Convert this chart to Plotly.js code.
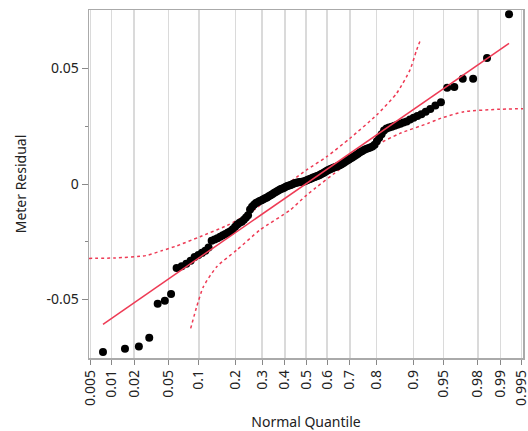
<!DOCTYPE html>
<html>
<head>
<meta charset="utf-8">
<script src="https://cdn.plot.ly/plotly-3.0.1.min.js"></script>
<style>html,body{margin:0;padding:0;background:#fff;}#chart{width:528px;height:431px;}</style>
</head>
<body>
<div id="chart"></div>
<script>
// Sorted meter residuals, n = 130
const residuals = [
-0.0727,-0.0713,-0.0703,-0.0665,-0.0518,-0.0505,-0.0476,-0.0364,-0.0356,-0.0345,
-0.0332,-0.0316,-0.0307,-0.0298,-0.0289,-0.0275,-0.0246,-0.0240,-0.0235,-0.0228,
-0.0222,-0.0216,-0.0210,-0.0205,-0.0196,-0.0185,-0.0175,-0.0168,-0.0163,-0.0155,
-0.0145,-0.0135,-0.0110,-0.0098,-0.0090,-0.0082,-0.0078,-0.0074,-0.0070,-0.0066,
-0.0062,-0.0058,-0.0053,-0.0049,-0.0044,-0.0039,-0.0035,-0.0030,-0.0026,-0.0022,
-0.0019,-0.0016,-0.0012,-0.0009,-0.0006,-0.0004,-0.0001,0.0002,0.0004,0.0006,
0.0008,0.0009,0.0010,0.0011,0.0013,0.0016,0.0019,0.0022,0.0025,0.0028,
0.0030,0.0033,0.0036,0.0039,0.0043,0.0047,0.0051,0.0055,0.0059,0.0063,
0.0066,0.0069,0.0072,0.0075,0.0078,0.0081,0.0085,0.0090,0.0095,0.0101,
0.0105,0.0110,0.0115,0.0120,0.0125,0.0131,0.0137,0.0142,0.0147,0.0151,
0.0155,0.0158,0.0162,0.0170,0.0185,0.0200,0.0215,0.0232,0.0240,0.0244,
0.0248,0.0252,0.0256,0.0261,0.0266,0.0271,0.0279,0.0287,0.0294,0.0302,
0.0313,0.0325,0.0340,0.0354,0.0416,0.0420,0.0455,0.0456,0.0545,0.0735
];

// Fitted line (normal quantile, residual)
const lineQuantile = [-2.426, 2.426];
const lineResidual = [-0.0607, 0.0609];

// Upper confidence band (normal quantile, residual)
const upperQuantile = [-2.593,-2.286,-1.915,-1.717,-1.545,-1.266,-0.947,-0.669,-0.39,0.008,0.247,0.526,0.845,1.084,1.243,1.322,1.37];
const upperResidual = [-0.0322,-0.0320,-0.0310,-0.0288,-0.0268,-0.0228,-0.0180,-0.0125,-0.0045,0.0061,0.0118,0.0198,0.0299,0.0393,0.0494,0.0580,0.0626];

// Lower confidence band (normal quantile, residual)
const lowerQuantile = [-1.378,-1.306,-1.227,-1.067,-0.828,-0.55,-0.191,0.008,0.446,0.845,1.123,1.462,1.609,1.888,2.286,2.593];
const lowerResidual = [-0.0625,-0.0531,-0.0445,-0.0358,-0.0286,-0.0199,-0.0113,-0.0048,0.0075,0.0169,0.0219,0.0263,0.0284,0.0313,0.0323,0.0326];

// Probability tick labels
const probTicks = [0.005,0.01,0.02,0.05,0.1,0.2,0.3,0.4,0.5,0.6,0.7,0.8,0.9,0.95,0.98,0.99,0.995];
const probLabels = ["0.005","0.01","0.02","0.05","0.1","0.2","0.3","0.4","0.5","0.6","0.7","0.8","0.9","0.95","0.98","0.99","0.995"];

const yTicks = [-0.05, 0, 0.05];
const yLabels = ["-0.05", "0", "0.05"];

// Inverse standard normal CDF (Acklam)
function invNorm(p) {
  const a=[-3.969683028665376e+01,2.209460984245205e+02,-2.759285104469687e+02,1.383577518672690e+02,-3.066479806614716e+01,2.506628277459239e+00];
  const b=[-5.447609879822406e+01,1.615858368580409e+02,-1.556989798598866e+02,6.680131188771972e+01,-1.328068155288572e+01];
  const c=[-7.784894002430293e-03,-3.223964580411365e-01,-2.400758277161838e+00,-2.549732539343734e+00,4.374664141464968e+00,2.938163982698783e+00];
  const d=[7.784695709041462e-03,3.224671290700398e-01,2.445134137142996e+00,3.754408661907416e+00];
  const pl=0.02425, ph=1-pl;
  let q,r;
  if (p<pl){q=Math.sqrt(-2*Math.log(p));return (((((c[0]*q+c[1])*q+c[2])*q+c[3])*q+c[4])*q+c[5])/((((d[0]*q+d[1])*q+d[2])*q+d[3])*q+1);}
  if (p>ph){q=Math.sqrt(-2*Math.log(1-p));return -(((((c[0]*q+c[1])*q+c[2])*q+c[3])*q+c[4])*q+c[5])/((((d[0]*q+d[1])*q+d[2])*q+d[3])*q+1);}
  q=p-0.5;r=q*q;
  return (((((a[0]*r+a[1])*r+a[2])*r+a[3])*r+a[4])*r+a[5])*q/(((((b[0]*r+b[1])*r+b[2])*r+b[3])*r+b[4])*r+1);
}

const n = residuals.length;
const pointQuantile = residuals.map((_, i) => invNorm((i + 1) / (n + 1)));
const tickPos = probTicks.map(invNorm);

const red = '#ee3b55';
const traces = [
  {x: upperQuantile, y: upperResidual, mode: 'lines', line: {color: red, width: 1.5, dash: '3px,3px', shape: 'spline', smoothing: 0.6}, hoverinfo: 'skip'},
  {x: lowerQuantile, y: lowerResidual, mode: 'lines', line: {color: red, width: 1.5, dash: '3px,3px', shape: 'spline', smoothing: 0.6}, hoverinfo: 'skip'},
  {x: pointQuantile, y: residuals, mode: 'markers', marker: {color: '#000', size: 8}},
  {x: lineQuantile, y: lineResidual, mode: 'lines', line: {color: red, width: 1.5}}
];

const layout = {
  width: 528, height: 431,
  margin: {l: 89, r: 5, t: 10, b: 73},
  paper_bgcolor: '#fff', plot_bgcolor: '#fff',
  showlegend: false,
  font: {family: '"Noto Sans", "Open Sans", sans-serif', size: 14, color: '#222'},
  xaxis: {
    range: [-2.593, 2.593],
    tickmode: 'array', tickvals: tickPos, ticktext: probLabels,
    ticklabeloverflow: 'allow',
    tickangle: -90, ticks: 'outside', ticklen: 5, tickcolor: '#888',
    showgrid: true, gridcolor: '#dadada', gridwidth: 1.5,
    zeroline: false, showline: true, linecolor: '#aaa', linewidth: 1.5, mirror: true,
    title: {text: 'Normal Quantile', font: {size: 14}, standoff: 14},
    tickfont: {size: 14}
  },
  yaxis: {
    range: [-0.0753, 0.0753],
    tickmode: 'array', tickvals: yTicks, ticktext: yLabels,
    ticks: 'outside', ticklen: 6, tickcolor: '#888',
    minor: {tickmode: 'array', tickvals: [-0.025, 0.025], ticks: 'outside', ticklen: 3, tickcolor: '#888', showgrid: false},
    showgrid: false, zeroline: false, showline: true, linecolor: '#aaa', linewidth: 1.5, mirror: true,
    title: {text: 'Meter Residual', font: {size: 14}, standoff: 16},
    tickfont: {size: 14}
  }
};

Plotly.newPlot('chart', traces, layout, {displayModeBar: false, staticPlot: true});
</script>
</body>
</html>
